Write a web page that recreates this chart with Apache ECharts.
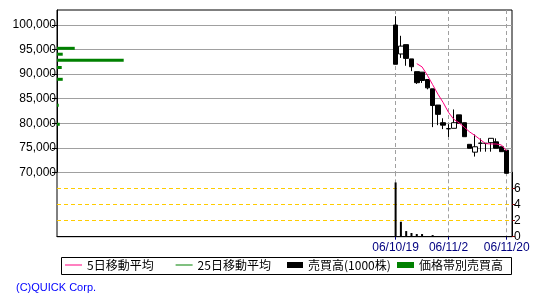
<!DOCTYPE html>
<html><head><meta charset="utf-8">
<script src="https://cdn.jsdelivr.net/npm/echarts@6/dist/echarts.min.js"></script>
<style>html,body{margin:0;padding:0;background:#fff}#c{width:550px;height:300px}</style>
</head><body><div id="c"></div>
<script>
// ---- categories (trading days) ----
const preMonths = [
  ['06/07', [19,20,21,24,25,26,27,28,31]],
  ['06/08', [1,2,3,4,7,8,9,10,11,14,15,16,17,18,21,22,23,24,25,28,29,30,31]],
  ['06/09', [1,4,5,6,7,8,11,12,13,14,15,19,20,21,22,25,26,27,28,29]],
  ['06/10', [2,3,4,5,6,10,11,12,13,16,17,18]]
];
const tradeDates = ['06/10/19','06/10/20','06/10/23','06/10/24','06/10/25','06/10/26','06/10/27',
  '06/10/30','06/10/31','06/11/1','06/11/2','06/11/6','06/11/7','06/11/8','06/11/9','06/11/10',
  '06/11/13','06/11/14','06/11/15','06/11/16','06/11/17','06/11/20'];
const tailDates = ['06/11/21'];
const labelDates = ['06/10/19','06/11/2','06/11/20'];

// ---- series values ----
const opens  = [100000,94100,96000,93100,90500,90400,88900,87000,83700,80100,78900,78960,81700,80100,75700,74100,75900,75900,76030,76200,75200,74500];
const closes = [ 92000,95700,93200,91500,88250,88700,87200,83600,81800,79600,78850,80100,80000,77250,74900,75200,75950,75900,76920,74900,74200,69800];
const lows   = [ 92000,93300,91700,90600,88000,88200,86900,79200,79600,78800,77200,78960,80000,77250,74900,73200,74200,74200,74200,74900,74200,69800];
const highs  = [101800,97800,96000,93100,90500,90400,89000,87000,83700,81000,79800,82800,81700,80100,75700,77700,76900,75900,76920,76900,75200,74500];
const volumes = [6.74,1.86,0.70,0.46,0.33,0.33,0.05,0.20,0.08,0.05,0.05,0.05,0.05,0.05,0.05,0.05,0.05,0.05,0.05,0.05,0.05,0.08];
const ma5Dates = tradeDates.slice(4);
const ma5 = [92130,91470,89770,87850,85910,84180,82210,80790,80070,79160,78220,77490,76660,75840,75770,75770,75570,74340];
const bandPrices  = [95250,94050,92810,91340,88940,83650,79780];
const bandVolumes = [1.95,0.63,7.33,0.52,0.63,0.19,0.30];

// ---- tick labels ----
const priceTicks = [70000,75000,80000,85000,90000,95000,100000];
const volumeTicks = [0,2,4,6];

const categories = [];
preMonths.forEach(([m, days]) => days.forEach(d => categories.push(m + '/' + d)));
tradeDates.forEach(d => categories.push(d));
tailDates.forEach(d => categories.push(d));

const showIdx = labelDates.map(d => categories.indexOf(d));
const isMarked = (i) => showIdx.indexOf(i) >= 0;

const candleData = tradeDates.map((d, i) => [d, opens[i], closes[i], lows[i], highs[i]]);
const volData = tradeDates.map((d, i) => [d, volumes[i]]);
const maData = ma5Dates.map((d, i) => [d, ma5[i]]);
const bandData = bandPrices.map((p, i) => [bandVolumes[i], p]);

const chart = echarts.init(document.getElementById('c'), null, {renderer: 'canvas'});
const numFont = "'Liberation Sans Narrow','Liberation Sans',Arial,sans-serif";
const cjkFont = "'Noto Sans CJK JP','Liberation Sans',sans-serif";
const legendText = {fontSize: 12, color: '#000', fontFamily: cjkFont};

chart.setOption({
  animation: false,
  backgroundColor: '#fff',
  grid: [
    {left: 57, right: 38, top: 10, bottom: 127.7},
    {left: 57, right: 38, top: 172.3, bottom: 63.3},
    {left: 57, right: 38, top: 10, bottom: 63.3, show: true, borderColor: '#000', borderWidth: 1, backgroundColor: 'transparent'}
  ],
  xAxis: [
    {type: 'category', gridIndex: 0, data: categories, boundaryGap: false,
     axisLine: {show: false}, axisTick: {show: false}, axisLabel: {show: false},
     splitLine: {show: true, interval: (i) => isMarked(i), lineStyle: {color: '#a0a0a0', type: [4, 3], width: 1}}},
    {type: 'category', gridIndex: 1, data: categories, boundaryGap: false,
     axisLine: {show: true, lineStyle: {color: '#000', width: 1}},
     axisTick: {show: true, interval: (i) => isMarked(i), length: 3, lineStyle: {color: '#000080'}},
     axisLabel: {show: true, interval: (i) => isMarked(i), color: '#000080', fontSize: 12, margin: 5,
                 fontFamily: "'Liberation Sans',Arial,sans-serif", hideOverlap: false},
     splitLine: {show: true, interval: (i) => isMarked(i), lineStyle: {color: '#a0a0a0', type: [4, 3], width: 1}}},
    {type: 'value', gridIndex: 0, position: 'top', min: 0, max: 50, show: false},
    {type: 'value', gridIndex: 2, show: false}
  ],
  yAxis: [
    {type: 'value', gridIndex: 0, position: 'left', min: 70000, max: 103055,
     axisLine: {show: true, lineStyle: {color: '#000'}},
     axisTick: {show: true, length: 5, customValues: priceTicks, lineStyle: {color: '#000'}},
     axisLabel: {show: true, customValues: priceTicks, margin: 1, fontSize: 12, color: '#000', fontFamily: numFont,
                 formatter: (v) => Number(v).toLocaleString('en-US')},
     splitLine: {show: true, lineStyle: {color: '#a0a0a0', width: 1}}},
    {type: 'value', gridIndex: 1, position: 'right', min: 0, max: 8,
     axisLine: {show: true, lineStyle: {color: '#000'}},
     axisTick: {show: true, length: 3, customValues: volumeTicks, lineStyle: {color: '#800000'}},
     axisLabel: {show: true, customValues: volumeTicks, margin: 2, fontSize: 12, color: '#000', fontFamily: numFont},
     splitLine: {show: true, lineStyle: {color: '#ffcc00', type: [4, 3], width: 1}}},
    {type: 'value', gridIndex: 2, show: false}
  ],
  legend: [
    {data: [{name: '5日移動平均', icon: 'rect'}], left: 65, top: 259, padding: 0, itemWidth: 17, itemHeight: 1, textStyle: legendText, selectedMode: false},
    {data: [{name: '25日移動平均', icon: 'rect'}], left: 175.6, top: 259, padding: 0, itemWidth: 17, itemHeight: 1, textStyle: legendText, selectedMode: false},
    {data: [{name: '売買高(1000株)', icon: 'rect'}], left: 287, top: 259, padding: 0, itemWidth: 16, itemHeight: 6, textStyle: legendText, selectedMode: false},
    {data: [{name: '価格帯別売買高', icon: 'rect'}], left: 397, top: 259, padding: 0, itemWidth: 17, itemHeight: 6, textStyle: legendText, selectedMode: false}
  ],
  graphic: [
    {type: 'rect', shape: {x: 61.5, y: 257.5, width: 450, height: 17}, style: {fill: 'none', stroke: '#000', lineWidth: 1}, z: -1},
    {type: 'text', left: 16, top: 282, style: {text: '(C)QUICK Corp.', fill: '#0000ff', font: "11px 'Liberation Sans',Arial,sans-serif"}}
  ],
  series: [
    {name: '価格帯別売買高', type: 'custom', xAxisIndex: 2, yAxisIndex: 0, data: bandData,
     encode: {x: 0, y: 1}, itemStyle: {color: '#008000'}, z: 3,
     renderItem: (params, api) => {
       const p0 = api.coord([0, api.value(1)]);
       const p1 = api.coord([api.value(0), api.value(1)]);
       return {type: 'rect', shape: {x: p0[0], y: p0[1] - 1.5, width: p1[0] - p0[0], height: 3},
               style: {fill: '#008000'}};
     }},
    {name: 'price', type: 'candlestick', xAxisIndex: 0, yAxisIndex: 0, data: candleData,
     encode: {x: 0, y: [1, 2, 3, 4]}, barWidth: 5, clip: false, z: 4,
     itemStyle: {color: '#fff', color0: '#000', borderColor: '#000', borderColor0: '#000', borderWidth: 1}},
    {name: '5日移動平均', type: 'line', xAxisIndex: 0, yAxisIndex: 0, data: maData, encode: {x: 0, y: 1},
     symbol: 'none', showSymbol: false, lineStyle: {color: '#ff0080', width: 1}, itemStyle: {color: '#ff0080'}, z: 5},
    {name: '25日移動平均', type: 'line', xAxisIndex: 0, yAxisIndex: 0, data: [],
     symbol: 'none', showSymbol: false, lineStyle: {color: '#008000', width: 1}, itemStyle: {color: '#008000'}},
    {name: '売買高(1000株)', type: 'bar', xAxisIndex: 1, yAxisIndex: 1, data: volData, encode: {x: 0, y: 1},
     barWidth: 2, itemStyle: {color: '#000'}, z: 4}
  ]
});
</script></body></html>
